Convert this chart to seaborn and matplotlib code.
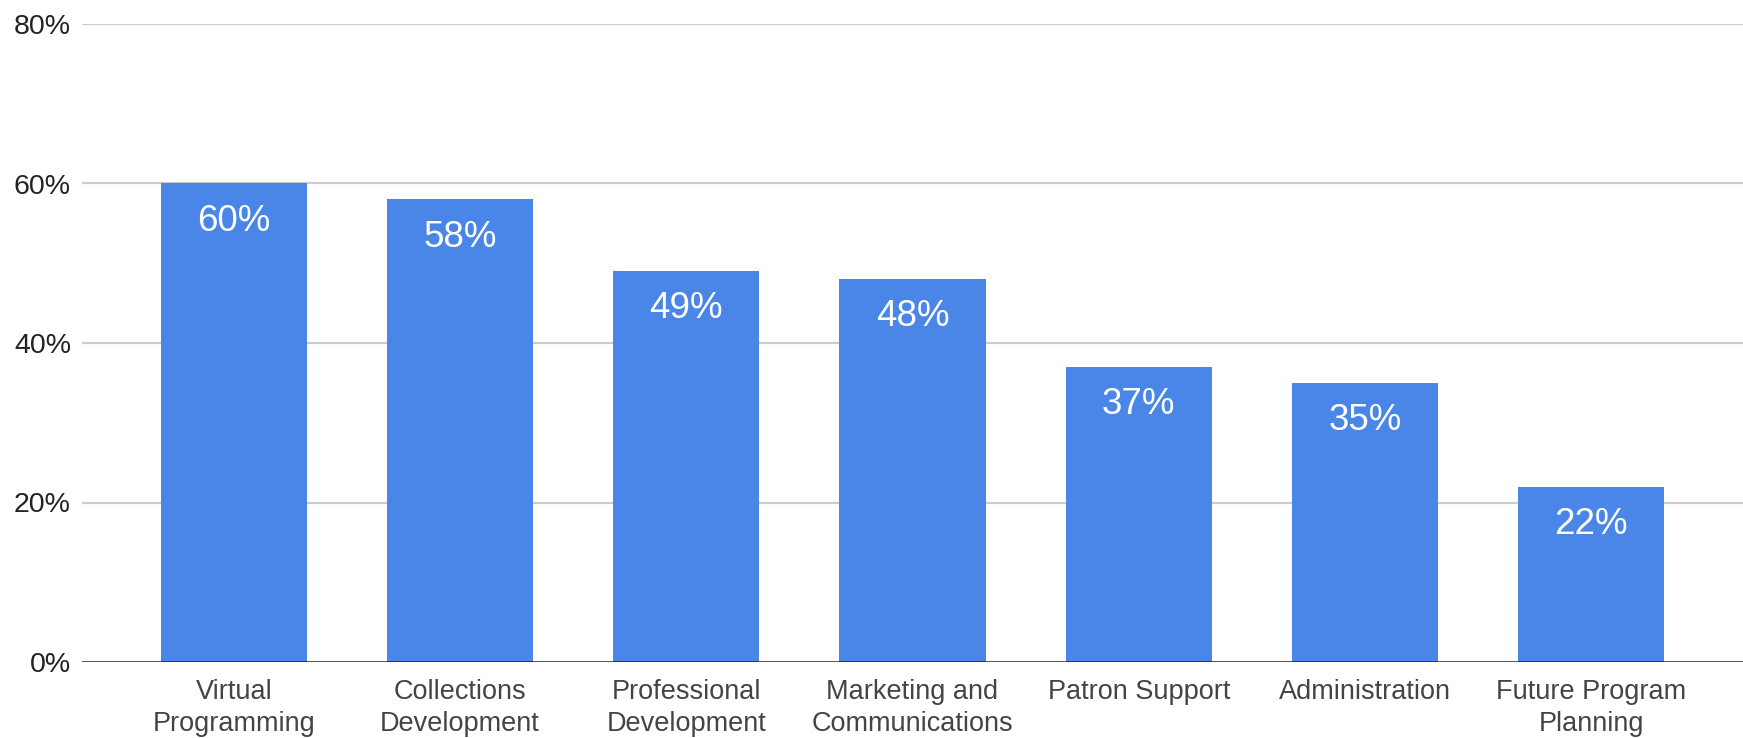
import matplotlib
matplotlib.use("Agg")
import matplotlib.pyplot as plt
import seaborn as sns
import pandas as pd

categories = ["Virtual\nProgramming", "Collections\nDevelopment", "Professional\nDevelopment",
              "Marketing and\nCommunications", "Patron Support", "Administration",
              "Future Program\nPlanning"]
values = [60, 58, 49, 48, 37, 35, 22]
yticks = [0, 20, 40, 60, 80]
ytick_labels = ["0%", "20%", "40%", "60%", "80%"]

sns.set_theme(style="white")
plt.rcParams['font.family'] = ['Liberation Sans', 'DejaVu Sans']

df = pd.DataFrame({"cat": categories, "val": values})

fig = plt.figure(figsize=(17.43, 7.38), dpi=100)
ax = fig.add_axes([82/1743, 1 - 662/738, 1 - 82/1743, (662 - 24)/738])

sns.barplot(data=df, x="cat", y="val", color="#4a86e8", saturation=1, width=0.646,
            linewidth=0, ax=ax, zorder=3)

ax.set_ylim(0, 80)
ax.set_xlim(-0.671, 6.671)
ax.set_yticks(yticks)
ax.set_yticklabels(ytick_labels)
ax.set_xlabel("")
ax.set_ylabel("")

for y in yticks[1:]:
    ax.axhline(y, color="#cccccc", lw=1.6, zorder=1)
ax.axhline(0, color="#222222", lw=1.8, zorder=4)

for s in ax.spines.values():
    s.set_visible(False)

ax.tick_params(axis="y", length=0, pad=8, labelsize=20.5, labelcolor="#222222")
ax.tick_params(axis="x", length=0, pad=12, labelsize=19.5, labelcolor="#444444")
for lbl in ax.get_xticklabels():
    lbl.set_linespacing(1.33)

for i, v in enumerate(values):
    ax.annotate(f"{v}%", xy=(i, v), xytext=(0, -34), textcoords="offset points",
                ha="center", va="baseline", color="white", fontsize=26.5, zorder=5)

fig.savefig("out.png", dpi=100, facecolor="white")
